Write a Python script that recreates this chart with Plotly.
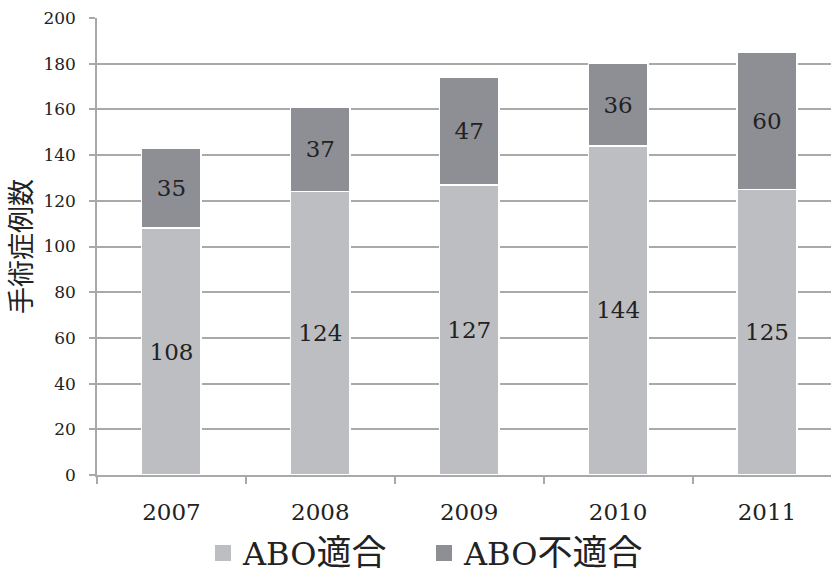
import plotly.graph_objects as go

# Surgery counts by year, split by ABO compatibility
years = ["2007", "2008", "2009", "2010", "2011"]
abo_compatible = [108, 124, 127, 144, 125]
abo_incompatible = [35, 37, 47, 36, 60]
series_names = ["ABO適合", "ABO不適合"]
y_ticks = [0, 20, 40, 60, 80, 100, 120, 140, 160, 180, 200]

FONT = "DejaVu Serif, Noto Sans CJK JP, serif"
LIGHT = "#bdbec2"
DARK = "#8e8f94"
GRID = "#a9a9a9"


def legend_label(name):
    # Latin part in the serif face, kana/kanji slightly larger
    latin = name[:3]
    rest = name[3:]
    return f'{latin}<span style="font-size:35px">{rest}</span>'


fig = go.Figure()
for name, vals, col in [(series_names[0], abo_compatible, LIGHT),
                        (series_names[1], abo_incompatible, DARK)]:
    fig.add_trace(go.Bar(
        x=years, y=vals, name=name, showlegend=False,
        marker=dict(color=col, line=dict(color="white", width=1.5)),
        width=0.4,
        text=[str(v) for v in vals],
        textposition="inside", insidetextanchor="middle", textangle=0,
        textfont=dict(family=FONT, size=23, color="#222222"),
        cliponaxis=False,
    ))

# legend entries with larger square swatches, one legend box each
for name, col, lg in [(series_names[0], LIGHT, "legend"),
                      (series_names[1], DARK, "legend2")]:
    fig.add_trace(go.Scatter(
        x=[None], y=[None], mode="markers", name=legend_label(name),
        marker=dict(symbol="square", size=19, color=col),
        showlegend=True, legend=lg,
    ))

legend_style = dict(
    orientation="h", xref="container", yref="container",
    xanchor="left", y=0.038, yanchor="middle",
    font=dict(family=FONT, size=32, color="#222222"),
    itemwidth=30, bgcolor="rgba(0,0,0,0)",
)

fig.update_layout(
    barmode="stack",
    width=831, height=575,
    margin=dict(l=97, r=0, t=18, b=100, autoexpand=False),
    paper_bgcolor="white", plot_bgcolor="white",
    font=dict(family=FONT, color="#222222"),
    uniformtext=dict(mode="show", minsize=23),
    legend=dict(x=203 / 831, **legend_style),
    legend2=dict(x=424 / 831, **legend_style),
    xaxis=dict(
        type="category", range=[-0.5, 4.43],
        showline=True, linecolor=GRID, linewidth=1.5,
        ticks="outside", tickson="boundaries", ticklen=7, tickcolor=GRID, tickwidth=1.5,
        tickfont=dict(family=FONT, size=23, color="#222222"),
        ticklabelstandoff=16,
        showgrid=False,
    ),
    yaxis=dict(
        range=[0, 200], tickvals=y_ticks,
        showline=True, linecolor=GRID, linewidth=1.5,
        ticks="outside", ticklen=6, tickcolor=GRID, tickwidth=1.5,
        tickfont=dict(family=FONT, size=17, color="#222222"),
        ticklabelstandoff=10,
        showgrid=True, gridcolor=GRID, gridwidth=1.5,
        zeroline=False,
        title=dict(text="手術症例数", standoff=12,
                   font=dict(family="Noto Sans CJK JP, sans-serif", size=27, color="#222222")),
    ),
)

fig.write_html("out.html")
